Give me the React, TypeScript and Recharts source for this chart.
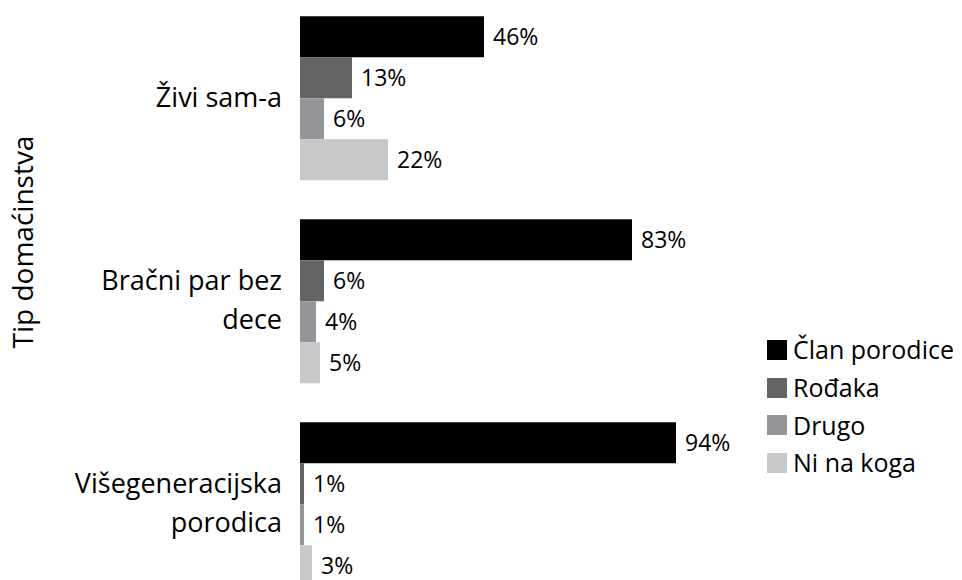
import React from 'react';
import { BarChart, Bar, XAxis, YAxis, LabelList } from 'recharts';

const categories = ['Živi sam-a', 'Bračni par bez\ndece', 'Višegeneracijska\nporodica'];
const seriesNames = ['Član porodice', 'Rođaka', 'Drugo', 'Ni na koga'];
const clanPorodice = [46, 83, 94];
const rodjaka = [13, 6, 1];
const drugo = [6, 4, 1];
const niNaKoga = [22, 5, 3];
const COLORS = ['#000000', '#636466', '#939598', '#c7c8ca'];

const FONT = '"Open Sans", sans-serif';

const chartData = categories.map((name, i) => ({
  name,
  s0: clanPorodice[i],
  s1: rodjaka[i],
  s2: drugo[i],
  s3: niNaKoga[i],
}));

const CategoryTick = (props: any) => {
  const { x, y, payload } = props;
  const lines: string[] = String(payload.value).split('\n');
  const lh = 39;
  const start = -((lines.length - 1) * lh) / 2;
  return (
    <text x={x - 10} y={y} textAnchor="end" fontFamily={FONT} fontSize={27} fill="#000">
      {lines.map((l, i) => (
        <tspan key={i} x={x - 10} y={y + start + i * lh} dy="0.35em">
          {l}
        </tspan>
      ))}
    </text>
  );
};

const ChartLegend = () => (
  <div style={{ position: 'absolute', left: 767, top: 331, fontFamily: FONT, fontSize: 25, color: '#000' }}>
    {seriesNames.map((n, i) => (
      <div key={n} style={{ display: 'flex', alignItems: 'center', height: 37.7 }}>
        <span style={{ width: 20, height: 20, background: COLORS[i], marginRight: 6, display: 'inline-block' }} />
        <span style={{ lineHeight: 1 }}>{n}</span>
      </div>
    ))}
  </div>
);

const App: React.FC = () => {
  return (
    <div style={{ position: 'absolute', left: 0, top: 0, width: 962, height: 580, overflow: 'hidden', background: '#fff' }}>
      <div style={{ position: 'relative', top: -4 }}>
        <BarChart
          width={962}
          height={620}
          data={chartData}
          layout="vertical"
          margin={{ top: 0, right: 262, left: 0, bottom: 11 }}
          barCategoryGap="10%"
          barGap={0}
        >
          <XAxis type="number" domain={[0, 100]} hide />
          <YAxis
            type="category"
            dataKey="name"
            width={300}
            axisLine={false}
            tickLine={false}
            tick={<CategoryTick />}
            label={{
              content: () => (
                <text
                  x={0}
                  y={0}
                  transform="translate(33, 246) rotate(-90)"
                  textAnchor="middle"
                  fontFamily={FONT}
                  fontSize={28}
                  fill="#000"
                >
                  Tip domaćinstva
                </text>
              ),
            }}
          />
          {seriesNames.map((n, i) => (
            <Bar key={n} dataKey={`s${i}`} name={n} fill={COLORS[i]} isAnimationActive={false}>
              <LabelList
                dataKey={`s${i}`}
                position="right"
                offset={9}
                formatter={(v: any) => `${v}%`}
                style={{ fontFamily: FONT, fontSize: 23, fill: '#000' }}
              />
            </Bar>
          ))}
        </BarChart>
      </div>
      <ChartLegend />
    </div>
  );
};

export default App;
